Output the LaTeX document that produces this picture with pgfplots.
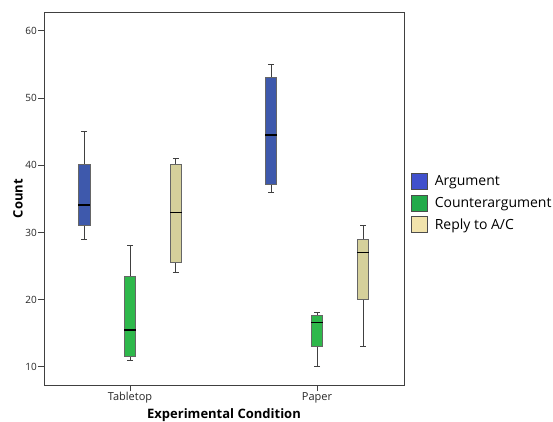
\documentclass[border=0pt]{standalone}
\usepackage{pgfplots}
\pgfplotsset{compat=1.18}
\usepgfplotslibrary{statistics}
\usepackage{fontspec}
\setmainfont{Open Sans}
\definecolor{argbox}{HTML}{3E59AC}
\definecolor{ctrbox}{HTML}{2EB84B}
\definecolor{repbox}{HTML}{D5D09B}
\definecolor{argleg}{HTML}{4050CC}
\definecolor{ctrleg}{HTML}{22AA4A}
\definecolor{repleg}{HTML}{F1E3AC}
\definecolor{framec}{HTML}{404040}
\begin{document}
\begin{tikzpicture}
\useasboundingbox (-44pt,-36pt) rectangle (509pt,385pt);
\begin{axis}[
  at={(0pt,0pt)}, anchor=south west,
  scale only axis, width=360pt, height=373pt,
  xmin=0.54, xmax=2.465, ymin=7.3, ymax=62.8,
  xtick={1,2}, xticklabels={Tabletop,Paper},
  ytick={10,20,30,40,50,60},
  tick align=outside, tick pos=left, major tick length=6pt,
  axis line style={draw=framec, line width=0.9pt},
  tick style={draw=framec, line width=0.9pt},
  /pgf/number format/assume math mode=true,
  yticklabel style={font=\fontsize{10}{11}\selectfont, color=black!85, inner sep=1pt},
  xticklabel style={font=\fontsize{11}{12}\selectfont, color=black!85, inner sep=1pt},
  xlabel={\textbf{Experimental Condition}},
  ylabel={\textbf{Count}},
  xlabel style={font=\fontsize{13}{15}\selectfont, at={(axis description cs:0.5,0)}, anchor=center, yshift=-30pt},
  ylabel style={font=\fontsize{13}{15}\selectfont, at={(axis description cs:0,0.5)}, anchor=center, yshift=26pt},
  boxplot/draw direction=y,
  boxplot/every median/.style={draw=black, line width=1.3pt},
  boxplot/every whisker/.style={draw=black!75, line width=0.8pt},
  boxplot/every box/.style={draw=black!60, line width=0.8pt},
  legend style={at={(axis description cs:1,0.488)}, anchor=west, xshift=5pt, draw=none, fill=none,
    font=\fontsize{14}{16}\selectfont, row sep=5pt, inner sep=2pt},
  legend cell align=left,
  legend image code/.code={\draw[#1, draw=black!70, line width=0.7pt] (0pt,-8pt) rectangle (16pt,8pt); \path (21pt,0pt);},
]
% Tabletop
\addplot[forget plot, fill=argbox, boxplot prepared={draw position=0.755, lower whisker=29, lower quartile=31, median=34.1, upper quartile=40.1, upper whisker=45, box extend=0.0625, whisker extend=0.032}] coordinates {};
\addplot[forget plot, fill=ctrbox, boxplot prepared={draw position=1.0, lower whisker=11, lower quartile=11.5, median=15.5, upper quartile=23.5, upper whisker=28, box extend=0.0625, whisker extend=0.032}] coordinates {};
\addplot[forget plot, fill=repbox, boxplot prepared={draw position=1.245, lower whisker=24.1, lower quartile=25.6, median=33, upper quartile=40.1, upper whisker=41, box extend=0.0625, whisker extend=0.032}] coordinates {};
% Paper
\addplot[forget plot, fill=argbox, boxplot prepared={draw position=1.754, lower whisker=36, lower quartile=37.1, median=44.5, upper quartile=53, upper whisker=55, box extend=0.0625, whisker extend=0.032}] coordinates {};
\addplot[forget plot, fill=ctrbox, boxplot prepared={draw position=2.0, lower whisker=10, lower quartile=13, median=16.6, upper quartile=17.6, upper whisker=18.1, box extend=0.0625, whisker extend=0.032}] coordinates {};
\addplot[forget plot, fill=repbox, boxplot prepared={draw position=2.246, lower whisker=13, lower quartile=20, median=27, upper quartile=29, upper whisker=31, box extend=0.0625, whisker extend=0.032}] coordinates {};
\addlegendimage{fill=argleg}
\addlegendentry{Argument}
\addlegendimage{fill=ctrleg}
\addlegendentry{Counterargument}
\addlegendimage{fill=repleg}
\addlegendentry{Reply to A/C}
\end{axis}
\end{tikzpicture}
\end{document}
